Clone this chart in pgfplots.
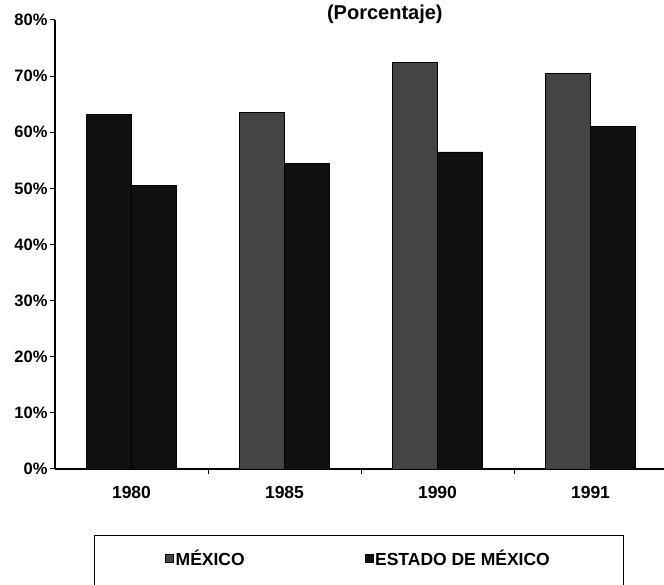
\documentclass[border=0pt]{standalone}
\usepackage{fontspec}
\setmainfont{Liberation Sans}
\usepackage{pgfplots}
\pgfplotsset{compat=1.18}
\definecolor{mexgray}{HTML}{444444}
\definecolor{edomex}{HTML}{101010}
\pgfplotsset{sqlegend/.style={legend image code/.code={%
  \draw[##1,/tikz/.cd,line width=0.4pt] (0pt,-4pt) rectangle (8pt,4pt);}}}
\begin{document}
\begin{tikzpicture}[x=1pt,y=1pt]
\begin{axis}[
  at={(55pt,116pt)}, anchor=south west,
  width=612pt, height=449pt, scale only axis,
  ymin=0, ymax=80, xmin=-0.5, xmax=3.5,
  axis x line*=bottom, axis y line*=left,
  axis line style={-, line width=1.2pt},
  ytick={0,10,...,80},
  yticklabels={0\%,10\%,20\%,30\%,40\%,50\%,60\%,70\%,80\%},
  xtick={0,1,2,3}, xticklabels={1980,1985,1990,1991},
  minor xtick={0.5,1.5,2.5},
  tick align=outside, major tick length=5pt, minor tick length=5pt,
  major x tick style={draw=none},
  tick style={black, line width=1pt},
  yticklabel style={font=\fontsize{16.5}{18}\selectfont\bfseries, xshift=1pt},
  xticklabel style={font=\fontsize{17.5}{19}\selectfont\bfseries, yshift=-9pt},
  title={(Porcentaje)},
  title style={at={(0.539,1)}, anchor=center, font=\fontsize{20}{22}\selectfont\bfseries},
  ybar=0pt, bar width=45pt,
  legend columns=2,
  legend style={name=leg, at={(0.496,-0.149)}, anchor=north, draw=none,
    inner xsep=71pt, inner ysep=12pt,
    font=\fontsize{17.5}{19}\selectfont\bfseries,
    /tikz/every even column/.append style={column sep=118pt}},
]
\addplot[fill=mexgray, draw=black, bar shift=-22.5pt, sqlegend]
  coordinates {(1,63.5) (2,72.5) (3,70.5)};
\addlegendentry{MÉXICO}
\addplot[fill=edomex, draw=black, bar shift=22.5pt, sqlegend]
  coordinates {(0,50.5) (1,54.5) (2,56.5) (3,61)};
\addlegendentry{ESTADO DE MÉXICO}
\addplot[fill=edomex, draw=black, bar shift=-22.5pt, forget plot]
  coordinates {(0,63.3)};
\end{axis}
\draw[line width=0.8pt] ([yshift=-40pt]leg.south west) -- (leg.north west)
  -- (leg.north east) -- ([yshift=-40pt]leg.south east);
\pgfresetboundingbox
\useasboundingbox (0,0) rectangle (664,585);
\end{tikzpicture}
\end{document}
